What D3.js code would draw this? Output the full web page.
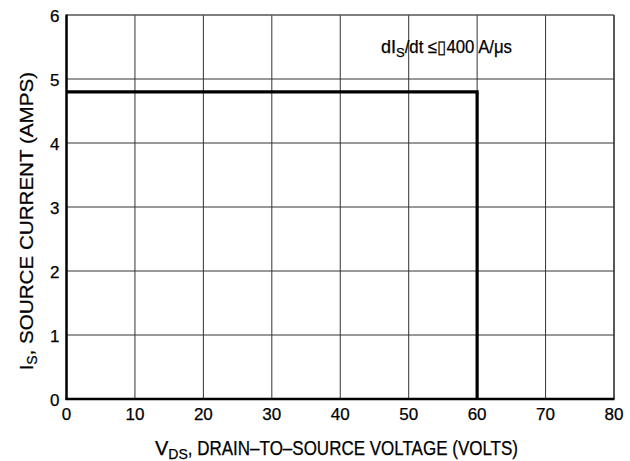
<!DOCTYPE html>
<html>
<head>
<meta charset="utf-8">
<script src="https://cdn.jsdelivr.net/npm/d3@7"></script>
<style>
  body { margin: 0; background: #fff; }
  text { font-family: "Liberation Sans", Arial, sans-serif; fill: #000; stroke: #000; stroke-width: 0.25; }
</style>
</head>
<body>
<svg id="chart" width="630" height="461"></svg>
<script>
// data
let xTicks = [0, 10, 20, 30, 40, 50, 60, 70, 80]
let yTicks = [0, 1, 2, 3, 4, 5, 6]
let safeV = [0, 60, 60]
let safeI = [4.8, 4.8, 0]

let width = 630
let height = 461
let margin = { top: 15, right: 16, bottom: 62, left: 66.5 }

let svg = d3.select("#chart")

let xScale = d3.scaleLinear().domain([0, 80]).range([margin.left, width - margin.right])
let yScale = d3.scaleLinear().domain([0, 6]).range([height - margin.bottom, margin.top])

// grid
svg.append("g")
    .selectAll("line")
    .data(xTicks)
    .enter()
    .append("line")
    .attr("x1", d => xScale(d)).attr("x2", d => xScale(d))
    .attr("y1", yScale(6)).attr("y2", yScale(0))
    .attr("stroke", d => d == 80 ? "#222" : "#333")
    .attr("stroke-width", d => d == 80 ? 1.5 : 1)

svg.append("g")
    .selectAll("line")
    .data(yTicks)
    .enter()
    .append("line")
    .attr("x1", xScale(0)).attr("x2", xScale(80))
    .attr("y1", d => yScale(d)).attr("y2", d => yScale(d))
    .attr("stroke", d => d == 6 ? "#555" : "#333")
    .attr("stroke-width", d => d == 6 ? 1.5 : 1)

// heavy left / bottom axis lines
svg.append("line")
    .attr("x1", xScale(0)).attr("x2", xScale(0))
    .attr("y1", yScale(6) - 0.5).attr("y2", yScale(0) + 1)
    .attr("stroke", "#000").attr("stroke-width", 2.5)
svg.append("line")
    .attr("x1", xScale(0) - 1).attr("x2", xScale(80) + 0.5)
    .attr("y1", yScale(0)).attr("y2", yScale(0))
    .attr("stroke", "#000").attr("stroke-width", 2.5)

// tick labels
svg.append("g")
    .selectAll("text")
    .data(xTicks)
    .enter()
    .append("text")
    .attr("x", d => xScale(d))
    .attr("y", yScale(0) + 21)
    .attr("text-anchor", "middle")
    .attr("font-size", "17px")
    .text(d => d)

svg.append("g")
    .selectAll("text")
    .data(yTicks)
    .enter()
    .append("text")
    .attr("x", xScale(0) - 7)
    .attr("y", d => yScale(d) + 6.5)
    .attr("text-anchor", "end")
    .attr("font-size", "17px")
    .text(d => d)

// safe operating boundary
let line = d3.line()
    .x((d, i) => xScale(safeV[i]))
    .y((d, i) => yScale(safeI[i]))
svg.append("path")
    .datum(safeV)
    .attr("d", line)
    .attr("fill", "none")
    .attr("stroke", "#000")
    .attr("stroke-width", 3.2)
    .attr("stroke-linejoin", "miter")

// text with a subscript, squeezed so the whole thing fills "total" px
function subText(sel, main, sub, rest, size, subSize, total) {
    let a = sel.append("tspan").attr("font-size", size + "px").text(main)
    let b = sel.append("tspan").attr("font-size", subSize + "px").attr("dy", 4).text(sub)
    let c = sel.append("tspan").attr("font-size", size + "px").attr("dy", -4).text(rest)
    let used = a.node().getComputedTextLength() + b.node().getComputedTextLength()
    c.attr("textLength", total - used).attr("lengthAdjust", "spacingAndGlyphs")
}

// annotation
let note = svg.append("text")
    .attr("x", 381)
    .attr("y", 53)
subText(note, "dI", "S", "/dt \u2264\u25AF400 A/\u03BCs", 18, 13, 131)

// axis titles
let xTitle = svg.append("text")
    .attr("x", 155)
    .attr("y", 455)
subText(xTitle, "V", "DS", ", DRAIN\u2013TO\u2013SOURCE VOLTAGE (VOLTS)", 20, 14, 363)

let yTitle = svg.append("text")
    .attr("transform", "translate(33,370) rotate(-90)")
subText(yTitle, "I", "S", ", SOURCE CURRENT (AMPS)", 19, 14, 298)
</script>
</body>
</html>
